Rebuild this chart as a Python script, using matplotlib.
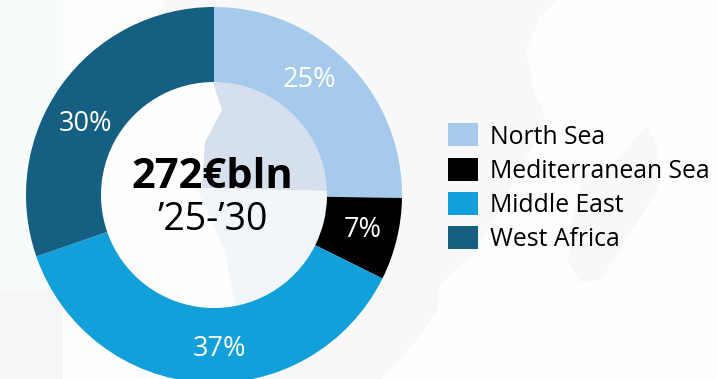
import matplotlib
matplotlib.use("Agg")
import matplotlib.pyplot as plt
from matplotlib.patches import Circle, Polygon, Rectangle

regions = ["North Sea", "Mediterranean Sea", "Middle East", "West Africa"]
shares = [25, 7, 37, 30]
labels = ["25%", "7%", "37%", "30%"]
colors = ["#a6caec", "#000000", "#11a0d9", "#156082"]
total_label = "272€bln"
period_label = "’25-’30"

W, H = 717, 379
plt.rcParams["font.family"] = ["Open Sans", "DejaVu Sans"]

fig = plt.figure(figsize=(W / 100, H / 100), dpi=100)
ax = fig.add_axes([0, 0, 1, 1])
ax.set_xlim(0, W)
ax.set_ylim(0, H)
ax.axis("off")


def py(y):
    # picture rows run downwards
    return H - y


# faded map behind the chart
def shape(points, color):
    ax.add_patch(Polygon([(x, py(y)) for x, y in points], color=color, lw=0, zorder=0))


ax.add_patch(Rectangle((0, 0), W, H, color="#fefefe", lw=0, zorder=0))
shape([(165, 0), (557, 0), (540, 17), (526, 50), (532, 75), (533, 90), (543, 110), (544, 125),
       (520, 170), (477, 250), (440, 285), (437, 310), (420, 335), (400, 360), (380, 379), (214, 379), (100, 200)], "#f8f8f8")
shape([(647, 125), (658, 150), (657, 190), (620, 250), (600, 280), (580, 282), (568, 260),
       (573, 215), (582, 180), (613, 165)], "#f8f8f8")
shape([(0, 0), (63, 0), (63, 290), (0, 290)], "#f8fbfc")
shape([(0, 290), (63, 290), (63, 379), (0, 379)], "#f6f6f6")
ax.add_patch(Circle((214, py(195)), 114, color="#fefefe", lw=0, zorder=0))
shape([(213, 83), (222, 110), (205, 142), (202, 188), (330, 191), (322, 130), (260, 75)], "#d5dfee")
shape([(197, 189), (330, 191), (330, 240), (300, 300), (236, 310), (225, 250)], "#f0f6fa")

# ring, first slice starts at twelve o'clock and runs clockwise
ax.pie(
    shares,
    colors=colors,
    center=(214, py(195)),
    radius=188,
    startangle=90,
    counterclock=False,
    frame=True,
    wedgeprops={"width": 75, "linewidth": 0},
)
ax.set_xlim(0, W)
ax.set_ylim(0, H)
ax.set_aspect("equal")
ax.axis("off")

label_pos = [(309, 80), (363, 230), (220, 349), (86, 124)]
for txt, (x, y) in zip(labels, label_pos):
    ax.text(x, py(y), txt, color="white", fontsize=19.5, ha="center", va="center", zorder=5)

ax.text(212, py(177), total_label, color="black", fontsize=30, fontweight="bold", ha="center", va="center", zorder=5)
ax.text(213, py(220), period_label, color="black", fontsize=27, ha="center", va="center", zorder=5)

# legend drawn by hand to hold the reference spacing
legend_y = [134, 169, 203, 237]
for name, c, y in zip(regions, colors, legend_y):
    ax.add_patch(Rectangle((448, py(y + 11.5)), 30, 23, color=c, lw=0, zorder=5))
    ax.text(490, py(y + 3), name, color="black", fontsize=17.8, ha="left", va="center", zorder=5)

fig.savefig("out.png", dpi=100)
